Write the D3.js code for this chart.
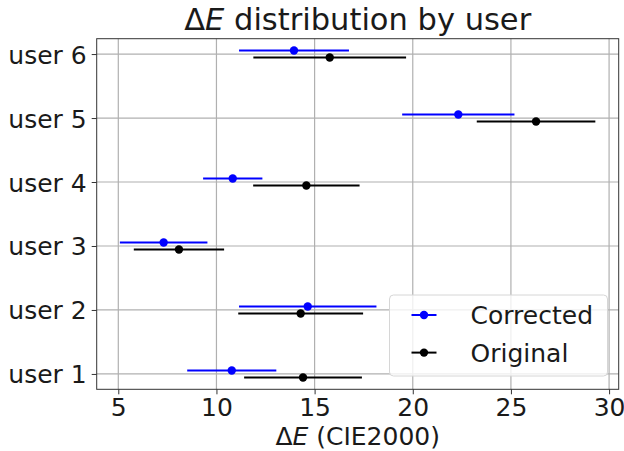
<html>
<head>
<script src="https://d3js.org/d3.v7.min.js"></script>
<style>
  body { margin: 0; background: #fff; }
  text { font-family: "DejaVu Sans", sans-serif; fill: #1a1a1a; }
</style>
</head>
<body>
<svg></svg>
<script>
// values
var users = ["user 1", "user 2", "user 3", "user 4", "user 5", "user 6"];
var correctedMean = [10.78, 14.65, 7.31, 10.83, 22.32, 13.95];
var correctedErr  = [2.27, 3.5, 2.23, 1.51, 2.86, 2.8];
var originalMean  = [14.41, 14.29, 8.09, 14.58, 26.28, 15.77];
var originalErr   = [3.0, 3.18, 2.3, 2.71, 3.02, 3.89];
var xTicks = [5, 10, 15, 20, 25, 30];

var width = 624, height = 451;
var margin = {"left": 96.7, "right": 5.3, "top": 38.7, "bottom": 61.7};

var svg = d3.select("svg")
    .attr("width", width)
    .attr("height", height);

var x = d3.scaleLinear()
    .domain([3.9, 30.49])
    .range([margin.left, width - margin.right]);
var y = d3.scaleLinear()
    .domain([-0.24, 5.24])
    .range([height - margin.bottom, margin.top]);

// grid
svg.append("g").selectAll("line")
    .data(xTicks).enter().append("line")
    .attr("x1", function(d) { return x(d); })
    .attr("x2", function(d) { return x(d); })
    .attr("y1", margin.top).attr("y2", height - margin.bottom)
    .attr("stroke", "#b0b0b0").attr("stroke-width", 1.2);
svg.append("g").selectAll("line")
    .data(users).enter().append("line")
    .attr("y1", function(d, i) { return y(i); })
    .attr("y2", function(d, i) { return y(i); })
    .attr("x1", margin.left).attr("x2", width - margin.right)
    .attr("stroke", "#b0b0b0").attr("stroke-width", 1.2);

// axes
var xAxis = svg.append("g")
    .attr("transform", "translate(0," + (height - margin.bottom) + ")")
    .call(d3.axisBottom(x).tickValues(xTicks).tickSize(5).tickPadding(4));
var yAxis = svg.append("g")
    .attr("transform", "translate(" + margin.left + ",0)")
    .call(d3.axisLeft(y).tickValues(d3.range(users.length))
        .tickFormat(function(d) { return users[d]; }).tickSize(5).tickPadding(5));
[xAxis, yAxis].forEach(function(a) {
    a.select(".domain").remove();
    a.selectAll("line").attr("stroke", "#333").attr("stroke-width", 1);
    a.selectAll("text").style("font-size", "25px").attr("fill", "#1a1a1a")
        .style("font-family", "DejaVu Sans");
});
yAxis.selectAll("text").attr("dy", "0.36em");

// series
var series = [
    {"name": "Corrected", "mean": correctedMean, "err": correctedErr, "color": "#0000ff", "off": 0.055},
    {"name": "Original", "mean": originalMean, "err": originalErr, "color": "#000000", "off": -0.055}
];

series.forEach(function(s) {
    var g = svg.append("g");
    g.selectAll("line")
        .data(s.mean).enter().append("line")
        .attr("x1", function(d, i) { return x(d - s.err[i]); })
        .attr("x2", function(d, i) { return x(d + s.err[i]); })
        .attr("y1", function(d, i) { return y(i + s.off); })
        .attr("y2", function(d, i) { return y(i + s.off); })
        .attr("stroke", s.color).attr("stroke-width", 2);
    g.selectAll("circle")
        .data(s.mean).enter().append("circle")
        .attr("cx", function(d) { return x(d); })
        .attr("cy", function(d, i) { return y(i + s.off); })
        .attr("r", 4.2)
        .attr("fill", s.color);
});

// frame
svg.append("rect")
    .attr("x", margin.left).attr("y", margin.top)
    .attr("width", width - margin.left - margin.right)
    .attr("height", height - margin.top - margin.bottom)
    .attr("fill", "none").attr("stroke", "#333").attr("stroke-width", 1);

// legend
var legend = svg.append("g").attr("transform", "translate(389.5,295)");
legend.append("rect")
    .attr("width", 218).attr("height", 81).attr("rx", 4)
    .attr("fill", "#fff").attr("fill-opacity", 0.8)
    .attr("stroke", "#d6d6d6").attr("stroke-width", 1);
series.forEach(function(s, i) {
    var ly = 20 + i * 37.6;
    legend.append("line")
        .attr("x1", 22).attr("x2", 47).attr("y1", ly).attr("y2", ly)
        .attr("stroke", s.color).attr("stroke-width", 2);
    legend.append("circle")
        .attr("cx", 34.5).attr("cy", ly).attr("r", 4.2).attr("fill", s.color);
    legend.append("text")
        .attr("x", 81).attr("y", ly).attr("dy", "0.36em")
        .style("font-size", "25px").text(s.name);
});

// title and x label
var title = svg.append("text")
    .attr("x", (margin.left + width - margin.right) / 2).attr("y", 29.5)
    .attr("text-anchor", "middle").style("font-size", "30.5px");
title.append("tspan").text("\u0394");
title.append("tspan").style("font-style", "italic").text("E");
title.append("tspan").text(" distribution by user");

var xlabel = svg.append("text")
    .attr("x", (margin.left + width - margin.right) / 2).attr("y", 445)
    .attr("text-anchor", "middle").style("font-size", "25px");
xlabel.append("tspan").text("\u0394");
xlabel.append("tspan").style("font-style", "italic").text("E");
xlabel.append("tspan").text(" (CIE2000)");
</script>
</body>
</html>
